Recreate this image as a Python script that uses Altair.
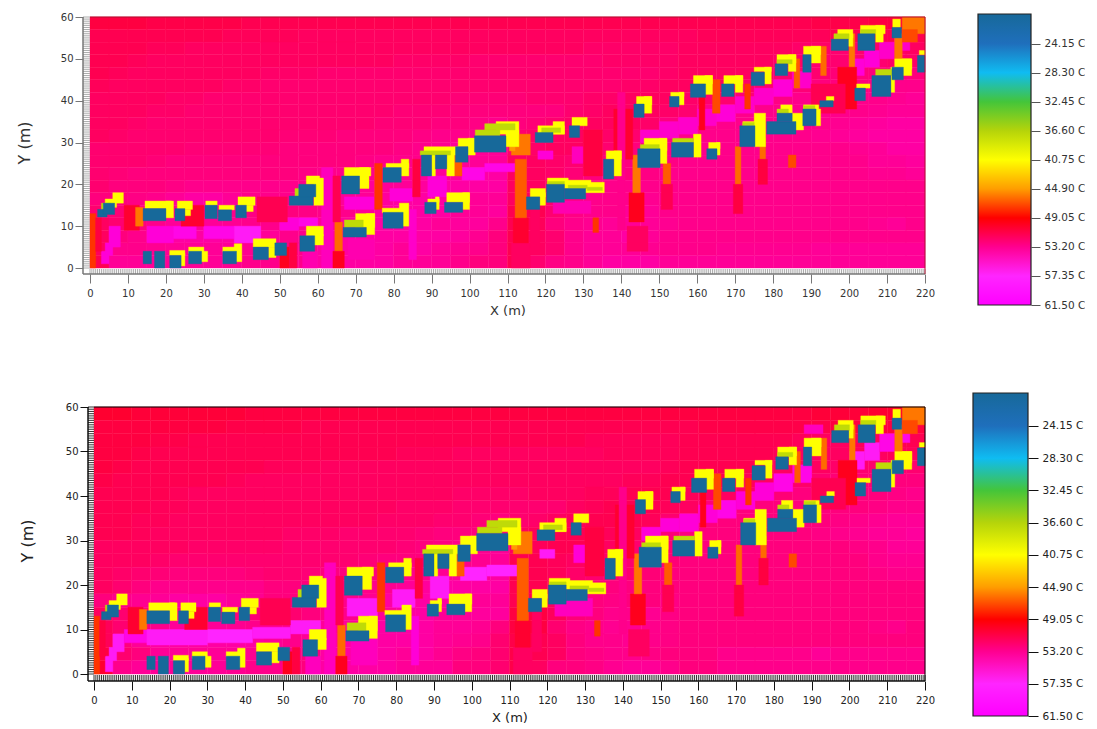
import altair as alt
import pandas as pd

# colour scale of the legend
stop_values = [19.9, 24.15, 28.3, 32.45, 36.6, 40.75, 44.9, 49.05, 53.2, 57.35, 61.5]
stop_colors = ['#17699a', '#1f6fbc', '#0fbcf2', '#44c53a', '#b5d40a', '#ffff00', '#ff9d00', '#ff0000', '#ff0090', '#ff25ff', '#ff00ff']
legend_ticks = [24.15, 28.3, 32.45, 36.6, 40.75, 44.9, 49.05, 53.2, 57.35, 61.5]

# background temperature, 5 m x 3 m cells, top row first; one character per cell, steps of 0.25 C from 49
level_chars = '0123456789abcdefghijklmn'
level_temps = [49 + 0.25 * i for i in range(24)]
level_of = dict(zip(level_chars, level_temps))
background_top = [
 '66677777888 88888888888 88888888888 88888777666',
 '88888889999 aaaaaaaaaaa aaaaaaaaaa9 99999988888',
 '88899aaaaaa aaaaaaaaaaa aaaabbbbbaa aaaabbccbba',
 '889aaaaaaaa aaaaabbbbcc cccccbbbbaa aaabbccccbb',
 '89aaaaaaabb bcccccccccc ccccccccbaa aabcccdeeee',
 '9aaaaaabbcc ccccccccccc ccccccbbaaa abccdeeefgg',
 'aaaabbccccc ccccccccddd dcccbbaaabc cdefggggghi',
 'aaabbcccccc cccccdddeee eeecbaaabcg gggggggghii',
 'aabcccccccc ccccdddeefg edcbaaabefg gggggghijkk',
 'abccccccccd ddeeeefgggg cbaaabcdfgg ggggghijkkk',
 'cccccddddde eeeeefghiii cbaabceffgg ggggggghikk',
 'cccdeeeeeee eeefggghiii aabccdeefgg ggggggggiij',
 'cdeeeeeeeee fggghhiijkk aabdeeefggg gggggggghhi',
 'ceeefgggggg gghiiijkkkk aabdfgggggg ggggggggggg',
 'eefgikkiggg ghiijkkkjii aacfggghggg ggggggggggg',
 'cdfgggggfee fggijkkkiij 88cfggiiggg ggggggggggg',
 'acegiiihggg iijkkkkijjg 89eghiiihgg gggggggghig',
 'aegikkkkkig gkkkkkkkjhe 8acgiikiggg ggggggggggg',
 'agghiiiihgg gkkkkikihge 8acgiiihggg hhhhhiiiiii',
 '8iiiiiihggg gkkkkiiigee 8cfgikkkiii iiiiiiiiiii',
]
background_bottom = [
 '44555555666 66666666666 66666666666 66666555444',
 '66666667777 88888888888 88888888887 77777766666',
 '66677888888 88888888888 88889999988 88889aa9988',
 '66788888888 88888999aaa aaaaa999988 8889aaaaa99',
 '67888888899 9aaaaaaaaaa aaaaaaaa988 889aaabcccc',
 '78888889aaa aaaaaaaaaaa aaaaaa99888 89aabcdddee',
 '88889aaaaaa aaaaaaaabbb baaa998889a abcdeeeeefg',
 '88899aaaaaa aaaaabbbccc ccca98889ae eeeeeeeefgg',
 '8899aaaaaaa aaaabbbccde cba98889cde eeeeeefghii',
 '889aaaaaaab bbccccdeeee a98889abdee eeeeefghiij',
 'aaaaabbbbbc cccccdefghi a9889acddee eeeeeeefgii',
 'aaabccccccc cccdeeefghi 889aabccdee eeeeeeeeghh',
 'abcdeeeedcc deeefgghijk 889bcccdeee eeeeeeeefgg',
 'aceggggggee eegghijkkkk 889bdeeeeee eeeeeeeeeee',
 'eghikkkihee egghkkkkiii 88adefeefee eeeeeeeeeee',
 'acefggfedcc efggikkiijj 669degghfee eeeeeeeeeee',
 '9cegiiihggg iijkkkkiihe 66cfghhgfee eeeeeeeefge',
 '9eikkkkkkig ikkkkkkihgc 78aegghgfee eeeeeeeeeee',
 '6ceiiiiihgg ekkkkikhfec 78aefggfeee gggggiggggg',
 '4giiiiihggg ekkkkiiieec 7aeefhiigee ggggggggggg',
]

# x1, x2, y1, y2, temperature: warm streaks and soft patches
streaks = [
 (0, 1.5, 0, 13, 48.5), (1.5, 3, 4, 12, 50.5), (9, 13, 9, 15, 50), (12, 14, 10, 14.5, 46.5), (24, 30, 10, 15, 50), (44, 52, 11, 17, 51),
 (50, 52.5, 0, 5, 49.5), (52.5, 54.5, 0, 6, 50.5), (64.5, 66.5, 4, 11, 47), (64, 67, 0, 4, 49.5), (64, 66, 11, 22, 51), (75, 77, 14, 25, 48.5), (85, 87, 17, 26, 50.5),
 (96, 98, 22, 28, 47.5), (111, 116, 0, 6, 51.5), (111.5, 115.5, 6, 12, 50), (112, 115, 12, 26, 47.5), (111, 116, 27, 32, 46.5), (110.5, 112, 28, 33, 45), (116, 118.5, 5, 14, 51.5),
 (141.5, 147, 4, 10, 51.5), (142, 146, 11, 18, 49.5), (143, 145, 18, 27, 46.5),
 (151, 153, 20, 25, 47.5), (150.5, 153.5, 14, 20, 51), (170, 171.5, 20, 29, 47), (169.5, 172, 13, 20, 50.5), (176.5, 178, 26, 31, 47), (176, 178.5, 20, 26, 50.5),
 (192.5, 194, 46, 53, 47), (200, 201.5, 48, 56, 46.5), (197, 202, 38, 48, 49.5), (190, 199, 37, 44, 51), (212, 214, 50, 56, 46.5), (160.5, 162, 33, 41, 49.5), (164, 166, 37, 45, 48),
 (172.5, 174, 38, 44, 48.5), (185.5, 187, 43, 50, 47.5), (138, 143, 26, 38, 50), (130, 135, 22, 33, 50.5),
 (132.5, 134, 8.5, 12, 48.5), (184, 186, 24, 27, 48), (214, 220, 56, 60, 46.5), (214, 218, 54, 57, 48),
 (139, 141, 9, 42, 53),
]
patches_top = [
 (61, 64, 0, 24, 55), (84, 86, 2, 14, 55.5), (3, 5, 1, 4, 56), (4, 6, 3, 6, 56), (5, 8, 5, 10, 56), (15, 22, 6, 10, 56), (22, 28, 7, 10, 56.5), (30, 38, 7, 10, 56.5), (38, 45, 6, 10, 57), (50, 55, 9, 12, 56), (55, 60, 10, 12, 56.5),
 (67, 75, 14, 17, 56), (79, 85, 16, 19, 56), (89, 94, 17, 22, 56), (98, 104, 21, 24, 56.5), (104, 112, 23, 25, 56.5), (118, 122, 26, 28, 56), (127, 130, 25, 29, 55),
 (122, 132, 13, 16, 54.5), (145, 150, 30, 33, 55.5), (150, 155, 31, 35, 55.5), (155, 160, 32, 36, 55.5), (160, 165, 34, 38, 55.5), (165, 170, 35, 39, 56), (170, 175, 37, 41, 55.5), (175, 180, 39, 43, 55.5),
 (180, 185, 41, 45, 56), (185, 190, 43, 47, 55.5), (200, 204, 46, 50, 56), (204, 208, 48, 52, 56), (208, 212, 50, 54, 55.5), (212, 216, 52, 55, 55.5), (68, 75, 2, 7, 54.5), (56, 60, 0, 4, 54.5),
]
patches_bottom = [
 (61, 64, 0, 25, 55), (84, 86, 2, 13, 56), (3, 5, 0.5, 4, 57), (4, 6, 3, 6, 57), (5, 8, 5, 9, 57), (8, 15, 7, 10, 56.5), (14, 30, 6.5, 10, 57), (30, 42, 7, 10, 57.5), (42, 52, 8, 10.5, 57), (52, 60, 9, 12, 57),
 (67, 75, 13, 17, 57), (79, 85, 15, 19, 57), (89, 94, 17, 22, 57), (97, 104, 21, 24, 57.5), (104, 112, 22, 24.5, 57.5), (118, 122, 26, 28, 57), (127, 130, 25, 29, 56),
 (122, 132, 13, 17, 55), (145, 150, 30, 33, 56), (150, 155, 32, 35, 56), (155, 160, 32, 36, 56), (160, 165, 34, 38, 56), (165, 170, 35, 39, 56.5), (170, 175, 37, 41, 56), (175, 180, 39, 43, 56),
 (180, 185, 41, 45, 56.5), (185, 190, 43, 47, 56.5), (200, 204, 46, 50, 57), (204, 208, 48, 52, 57), (208, 212, 50, 54, 56.5), (212, 216, 52, 55, 56.5), (68, 75, 2, 8, 55), (56, 60, 0, 4, 55), (188, 193, 54, 56, 55),
]

# building shells
yellow = [
 (6, 8.8, 15.5, 18), (4, 7, 14.5, 16.5), (14.5, 21.5, 14.2, 16), (20, 22, 12, 16), (23, 27, 14, 16), (25, 26.5, 12.5, 14), (30.5, 33.5, 15, 16),
 (34, 38, 13.9, 15), (39, 43.5, 15, 17), (41, 43, 13.5, 15), (21, 25, 3, 4.2), (24, 25, 0.5, 3.5), (26, 30, 3.5, 5), (29, 31, 1.5, 4), (35, 39, 3.8, 5),
 (38, 40, 1.5, 5.8), (43, 49, 5, 7), (47, 49, 2.5, 5), (57, 61.5, 7.7, 10), (59, 61.5, 5.5, 8), (59, 61.5, 15, 21.5), (57, 60.5, 20, 22),
 (67, 74, 22, 24), (71, 73.5, 19, 24), (70, 75, 9.7, 13), (72.8, 75, 8, 13), (77, 83, 13.2, 14.3), (81.5, 84, 10, 15.5), (78, 84, 24, 25), (82, 84, 22, 26),
 (88, 97, 27, 29), (94, 96, 22, 28), (90, 91, 22, 28), (89, 92, 15.7, 16.5), (91, 92, 14, 17), (94, 100, 15.7, 18), (98.2, 100, 14, 18),
 (97, 101.5, 29, 31), (99.6, 101.5, 27, 31), (107, 113, 32, 35), (109.6, 113, 29, 33),
 (118, 125, 32, 34), (122, 125, 32, 35), (127, 131, 34, 36), (116, 120, 17, 19), (118.5, 120, 15, 18), (120.5, 126, 20, 21.5), (125, 132, 19, 21), (130, 135.5, 18, 20.5),
 (136, 140, 26, 28), (138, 140, 22, 28), (144, 148, 39, 41), (146, 148, 37, 41), (146, 152, 28, 31), (150, 152, 25, 31), (159, 161, 26.5, 32),
 (163, 166, 28.5, 30), (165, 166, 27, 30), (172, 176, 34, 35), (175, 178, 29, 37), (182, 185, 37, 39), (185, 188, 33, 37), (188, 192, 38, 39), (191, 192.5, 34, 38),
 (194, 196, 40, 41), (153, 156.5, 41, 42), (155.2, 156.5, 39, 42), (159, 164, 44, 46), (162, 164, 41.5, 46), (167, 172, 44, 46), (170, 172, 42, 46),
 (175, 179.5, 47, 48), (177.7, 179.5, 44, 48), (181, 186, 49, 51), (184, 186, 47, 51), (188, 192.5, 51, 53), (190, 192.5, 49, 53),
 (197, 201, 55, 57), (199.8, 201, 53, 56), (203, 209.5, 56, 58), (207, 209, 54, 58), (211.5, 213.5, 57.5, 59.5), (202, 205.5, 43, 44), (211, 212, 42, 48), (212, 216.5, 47.5, 50), (214, 216.5, 46, 50), (218.5, 220, 51, 52),
]
lime = [
 (3, 5.5, 14, 15.5), (54, 57, 17, 19), (67, 72, 9.7, 11.5), (87, 95, 27, 28), (101.5, 108, 31.6, 33), (104, 112, 33, 34.5), (153.5, 159, 30, 31),
 (119, 124, 32.4, 33.5), (120.5, 125, 20, 20.7), (126, 131, 19, 19.8), (131, 135, 18.5, 19.3), (181, 184, 37, 38), (196, 200, 54.7, 56), (203, 207, 56, 57), (207, 212, 46, 47.5),
 (145, 150, 28.5, 29.5), (172, 175, 34, 34.8), (188, 191, 38, 38.8), (181, 185, 48.8, 49.8),
]
blue = [
 (2, 4.5, 12.2, 14), (3.5, 6.5, 12.8, 15.5), (14, 20, 11.3, 14.2), (22.4, 25, 11.3, 14.2), (30.3, 33.5, 11.8, 15), (33.8, 37.3, 11.3, 13.9), (38.4, 41.2, 12, 15),
 (14, 16.2, 1, 4), (17, 19.7, 0, 4), (21, 24, 0, 3), (26, 29.4, 1, 4), (35, 38.6, 1, 4), (43, 47, 2, 5), (48.7, 51.8, 3, 6), (55.3, 59.2, 4, 7.7),
 (52.5, 58.8, 15, 17.2), (55, 59.5, 17, 20), (66.3, 71, 17.7, 22), (66.7, 72.8, 7.4, 9.7), (77.2, 82.5, 9.5, 13.3), (77.2, 82, 20.5, 24), (87.3, 90, 22, 27), (91, 94, 23.7, 27),
 (88.2, 91.2, 13, 15.7), (93.4, 98.2, 13.3, 15.7), (96.3, 99.6, 25.3, 29), (101.3, 109.6, 27.7, 31.6), (117.3, 122, 30, 32.4), (126.3, 129, 31.2, 34),
 (115, 118.5, 14, 17), (120.3, 125, 15.7, 20), (125, 130.6, 16.5, 19), (135.3, 138, 21.3, 26), (143.3, 146, 36, 39.2), (144.3, 150.2, 24, 28.5), (153.2, 159, 26.5, 30),
 (162.5, 165.2, 26, 28.5), (171.2, 175.2, 29, 34), (178.3, 186, 32, 35), (181, 185, 35, 37), (187.8, 191.3, 34, 38), (192.3, 195.8, 38.5, 40),
 (152.7, 155.2, 38.5, 41), (158.2, 162.2, 40.8, 44), (166.4, 169.7, 41, 44), (174.2, 177.7, 43.6, 46.8), (180.5, 183.8, 46, 48.8), (187.8, 190, 46.8, 51),
 (195.3, 199.8, 52, 54.7), (202.3, 206.8, 52, 56), (211.3, 213.8, 55, 57.5), (201.5, 204.3, 40, 43), (206, 211, 41, 46), (211.3, 214.3, 45, 48), (218, 220, 46.8, 50.8),
]
x_ticks = list(range(0, 221, 10))
y_ticks = list(range(0, 61, 10))
minor_x = [i / 2 for i in range(0, 441)]
minor_y = [i / 2 for i in range(0, 121)]


def cells(bg, patches):
    rows = []
    for r, line in enumerate(bg):
        for c, ch in enumerate(line.replace(' ', '')):
            rows.append((c * 5, c * 5 + 5, 60 - 3 * r - 3, 60 - 3 * r, level_of[ch]))
    rows += patches + streaks
    rows += [b + (40.75,) for b in yellow]
    rows += [b + (37.2,) for b in lime]
    rows += [b + (19.9,) for b in blue]
    return pd.DataFrame(rows, columns=['x1', 'x2', 'y1', 'y2', 't'])


def panel(bg, patches, h, xr, yr, ax_x, ax_y, axis_color, text_color, minor_color, title_pad_y, title_pad_x, edge):
    xs = alt.Scale(domain=[0, 220], range=xr, nice=False)
    ys = alt.Scale(domain=[0, 60], range=yr, nice=False)
    color = alt.Scale(domain=stop_values, range=stop_colors)
    common = dict(labelFont='DejaVu Sans', labelFontSize=10, labelColor=text_color, titleFont='DejaVu Sans', titleFontWeight='normal',
                  titleColor=text_color, domain=False, tickColor=axis_color, tickWidth=1, grid=False)
    xax = alt.Axis(values=x_ticks, title='X (m)', titleFontSize=13, offset=ax_x - h, tickSize=9, labelPadding=5, labelFlush=False, titlePadding=title_pad_x, format='d', **common)
    yax = alt.Axis(values=y_ticks, title='Y (m)', titleFontSize=16, offset=-ax_y, tickSize=8, labelPadding=2, titlePadding=title_pad_y, format='d', **common)
    heat = alt.Chart(cells(bg, patches)).mark_rect(strokeWidth=0.4).encode(
        x=alt.X('x1:Q', scale=xs, axis=xax), x2='x2:Q',
        y=alt.Y('y1:Q', scale=ys, axis=yax), y2='y2:Q',
        fill=alt.Fill('t:Q', scale=color, legend=None),
        stroke=alt.Stroke('t:Q', scale=color, legend=None),
    )
    tick_x = alt.Chart(pd.DataFrame({'v': minor_x})).mark_rule(color=minor_color, strokeWidth=1).encode(
        x=alt.X('v:Q', scale=xs, axis=xax), y=alt.value(yr[0] + 1), y2=alt.value(ax_x))
    tick_y = alt.Chart(pd.DataFrame({'v': minor_y})).mark_rule(color=minor_color, strokeWidth=1).encode(
        y=alt.Y('v:Q', scale=ys, axis=yax), x=alt.value(ax_y), x2=alt.value(xr[0]))
    frame = pd.DataFrame({'a': [0]})
    line_x = alt.Chart(frame).mark_rule(color=axis_color, strokeWidth=1.5).encode(x=alt.value(ax_y), x2=alt.value(xr[1]), y=alt.value(ax_x))
    line_y = alt.Chart(frame).mark_rule(color=axis_color, strokeWidth=1.5).encode(x=alt.value(ax_y), y=alt.value(yr[1]), y2=alt.value(ax_x))
    edge_t = alt.Chart(frame).mark_rule(color=edge, strokeWidth=1).encode(x=alt.value(xr[0]), x2=alt.value(xr[1]), y=alt.value(yr[1]))
    edge_r = alt.Chart(frame).mark_rule(color=edge, strokeWidth=1).encode(x=alt.value(xr[1]), y=alt.value(yr[1]), y2=alt.value(ax_x))
    return alt.layer(heat, tick_x, tick_y, line_x, line_y, edge_t, edge_r).properties(width=835, height=h)


def bar(h, x0, x1, ax_off, tick_size, axis_color, text_color):
    total = stop_values[-1] - stop_values[0]
    stops = [alt.GradientStop(offset=(v - stop_values[0]) / total, color=c) for v, c in zip(stop_values, stop_colors)]
    df = pd.DataFrame({'a': [stop_values[0]], 'b': [stop_values[-1]]})
    return alt.Chart(df).mark_rect(
        fill=alt.Gradient(gradient='linear', stops=stops, x1=0, x2=0, y1=0, y2=1),
        stroke='#222222', strokeWidth=1.2,
    ).encode(
        x=alt.value(x0), x2=alt.value(x1),
        y=alt.Y('a:Q', scale=alt.Scale(domain=[stop_values[-1], stop_values[0]], nice=False),
                axis=alt.Axis(orient='right', values=legend_ticks, title=None, domain=False, grid=False, tickSize=tick_size, tickColor=axis_color, offset=ax_off,
                              labelFont='DejaVu Sans', labelFontSize=10.5, labelColor=text_color, labelPadding=4,
                              labelExpr="format(datum.value, '.2f') + ' C'")),
        y2='b:Q',
    ).properties(width=60, height=h)


chart = alt.concat(
    panel(background_top, patches_top, 291, [0, 835], [254, 3], 260, -7, '#777777', '#333333', '#aaaaaa', 28, 6, '#b01030'),
    bar(291, 5, 58, -2, 9, '#555555', '#333333'),
    panel(background_bottom, patches_bottom, 323, [4, 835], [281, 14], 288, -2, '#111111', '#222222', '#333333', 30, 6, '#000000'),
    bar(323, 0, 55, -5, 10, '#111111', '#222222'),
    columns=2, spacing=alt.RowColnumber(row=88, column=48), bounds='flush', align='each',
).resolve_scale(fill='independent', stroke='independent').properties(padding={'left': 8, 'top': 4, 'right': 0, 'bottom': 0}).configure_view(stroke=None)

chart.save("out.html", embed_options={"renderer": "svg", "actions": False})
